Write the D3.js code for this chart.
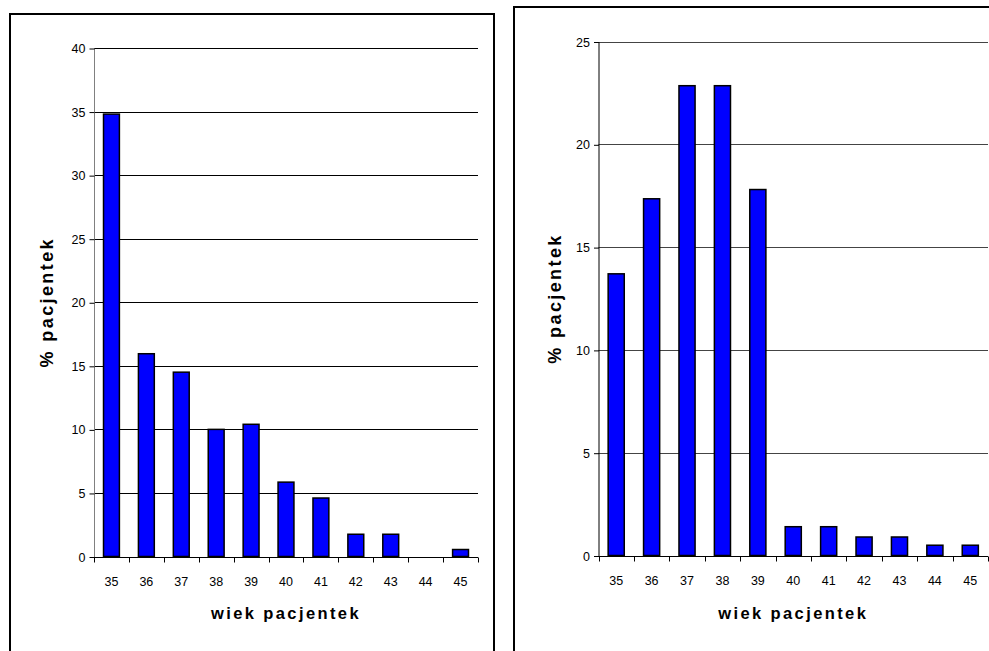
<!DOCTYPE html>
<html>
<head>
<meta charset="utf-8">
<script src="https://cdn.jsdelivr.net/npm/d3@7"></script>
<style>
  html, body { margin: 0; padding: 0; background: #fff; }
  svg { display: block; }
  text { font-family: "Liberation Sans", Arial, sans-serif; fill: #000; }
</style>
</head>
<body>
<svg id="chart" width="989" height="651"></svg>
<script>
// ---- data ----
const ages = ["35", "36", "37", "38", "39", "40", "41", "42", "43", "44", "45"];
const leftValues = [34.8, 15.95, 14.5, 10.0, 10.4, 5.85, 4.6, 1.75, 1.75, 0, 0.55];
const rightValues = [13.7, 17.35, 22.85, 22.85, 17.8, 1.4, 1.4, 0.9, 0.9, 0.5, 0.5];
const leftTicks = [0, 5, 10, 15, 20, 25, 30, 35, 40];
const rightTicks = [0, 5, 10, 15, 20, 25];
const xTitle = "wiek pacjentek";
const yTitle = "% pacjentek";

const svg = d3.select("#chart");

function drawPanel(cfg) {
  const g = svg.append("g");
  // frame
  g.append("path")
    .attr("d", `M${cfg.frame.x0},${651 + 5} V${cfg.frame.y0} H${cfg.frame.x1} V${651 + 5}`)
    .attr("fill", "none").attr("stroke", "#000").attr("stroke-width", 2);

  const x = d3.scaleBand().domain(ages).range([cfg.left, cfg.right])
    .paddingInner(0.545).paddingOuter(0.2725);
  const xb = d3.scaleBand().domain(ages).range([cfg.left, cfg.right]).padding(0);
  const y = d3.scaleLinear().domain([0, cfg.max]).range([cfg.bottom, cfg.top]);

  // gridlines
  g.append("g").selectAll("line").data(cfg.ticks.filter(t => t > 0)).join("line")
    .attr("x1", cfg.left).attr("x2", cfg.right)
    .attr("y1", d => Math.round(y(d)) + 0.5).attr("y2", d => Math.round(y(d)) + 0.5)
    .attr("stroke", cfg.gridColor).attr("stroke-width", 1);

  // y axis
  const yAxis = d3.axisLeft(y).tickValues(cfg.ticks).tickSize(5).tickPadding(4);
  const ya = g.append("g").attr("transform", `translate(${cfg.left + 0.5},0.5)`).call(yAxis);
  ya.select(".domain").attr("stroke", cfg.yAxisColor).attr("d", `M0,${cfg.bottom}V${cfg.top}`);
  ya.selectAll(".tick line").attr("stroke", "#000");
  ya.selectAll("text").attr("font-size", 12.5).attr("font-family", "Liberation Sans, Arial, sans-serif");

  // bars
  g.append("g").selectAll("rect").data(ages.map((a, i) => ({a, v: cfg.values[i]})).filter(d => d.v > 0))
    .join("rect")
    .attr("x", d => x(d.a))
    .attr("width", x.bandwidth())
    .attr("y", d => y(d.v))
    .attr("height", d => cfg.bottom - y(d.v))
    .attr("fill", "#0000ff").attr("stroke", "#000").attr("stroke-width", 1.5);

  // x axis
  const xLine = g.append("g").attr("transform", `translate(0,${Math.round(cfg.bottom) + 0.5})`);
  xLine.append("line").attr("x1", cfg.left).attr("x2", cfg.right).attr("stroke", "#000");
  const bounds = ages.map(a => xb(a)).concat([cfg.right]);
  xLine.selectAll("line.tk").data(bounds).join("line").attr("class", "tk")
    .attr("x1", d => Math.round(d) + 0.5).attr("x2", d => Math.round(d) + 0.5)
    .attr("y1", 0).attr("y2", 5).attr("stroke", "#000");
  xLine.selectAll("text").data(ages).join("text")
    .attr("x", d => xb(d) + xb.bandwidth() / 2)
    .attr("y", 28)
    .attr("text-anchor", "middle").attr("font-size", 12.5)
    .text(d => d);

  // titles
  g.append("text")
    .attr("x", (cfg.left + cfg.right) / 2).attr("y", 619)
    .attr("text-anchor", "middle").attr("font-size", 16.5).attr("font-weight", "bold")
    .attr("letter-spacing", "2.4px")
    .text(xTitle);
  g.append("text")
    .attr("transform", `translate(${cfg.yTitleX},${(cfg.top + cfg.bottom) / 2}) rotate(-90)`)
    .attr("text-anchor", "middle").attr("font-size", 18).attr("font-weight", "bold")
    .attr("letter-spacing", "2.4px")
    .text(yTitle);
}

drawPanel({
  frame: {x0: 10, x1: 494, y0: 14},
  left: 94, right: 478, top: 48, bottom: 556.5,
  max: 40, ticks: leftTicks, values: leftValues,
  gridColor: "#000", yAxisColor: "#808080", yTitleX: 53
});
drawPanel({
  frame: {x0: 514, x1: 995, y0: 7},
  left: 598.5, right: 988, top: 41.5, bottom: 555.5,
  max: 25, ticks: rightTicks, values: rightValues,
  gridColor: "#444", yAxisColor: "#000", yTitleX: 561
});
</script>
</body>
</html>
